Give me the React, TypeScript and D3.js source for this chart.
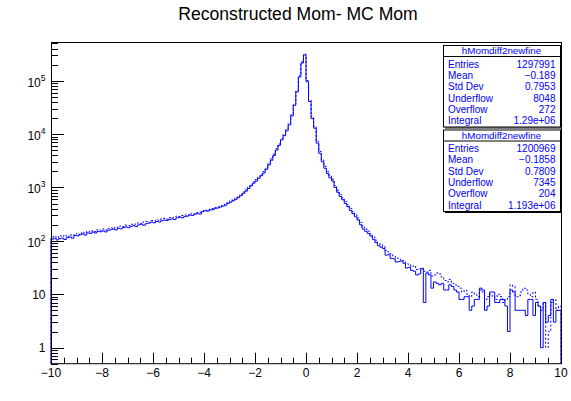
import React from "react";
import * as d3 from "d3";

// ---------------- data ----------------
const xDomain = [-10, 10];
const nBins = 200;

// hMomdiff2newfine (solid)
const solidCounts = [
  107, 112, 104, 110, 112, 106, 115, 118, 112, 126,
  124, 130, 135, 128, 141, 138, 146, 140, 150, 148,
  153, 147, 158, 161, 166, 160, 171, 168, 177, 182,
  176, 188, 192, 185, 199, 205, 196, 210, 215, 224,
  218, 230, 226, 238, 245, 240, 252, 258, 250, 269,
  276, 270, 284, 290, 305, 298, 315, 322, 318, 352,
  367, 360, 378, 385, 407, 412, 430, 448, 465, 505,
  530, 565, 600, 645, 700, 776, 851, 955, 1072, 1202,
  1318, 1479, 1660, 1862, 2188, 2630, 3236, 3981, 5012, 6166,
  7762, 9333, 11482, 14791, 21878, 34674, 61660, 117490, 213800, 302000,
  95500, 40700, 19500, 12900, 6760, 4370, 3020, 2290, 1820, 1510,
  1320, 1000, 813, 676, 589, 501, 437, 372, 324, 282,
  245, 200, 166, 151, 138, 123, 107, 93, 81, 76,
  72, 54, 55, 47, 46, 40, 41, 42, 38, 31,
  32, 28, 27, 23, 24, 30, 7, 25, 23, 13,
  17, 16, 15, 16, 12, 12, 15, 14, 12, 11,
  8, 8, 9, 9, 5, 6, 8, 8, 13, 12,
  5, 6, 11, 11, 7, 7, 8, 8, 6, 2,
  12, 11, 5, 5, 5, 5, 4, 8, 8, 4,
  7, 6, 1, 7, 3, 4, 8, 3, 5, 5,
];

// second histogram (dotted)
const dottedCounts = [
  118, 122, 115, 125, 120, 128, 119, 130, 126, 133,
  138, 131, 145, 140, 152, 147, 155, 149, 162, 158,
  166, 160, 172, 176, 170, 182, 178, 190, 186, 197,
  193, 205, 200, 212, 218, 210, 225, 230, 222, 240,
  236, 248, 244, 258, 264, 255, 272, 268, 280, 290,
  285, 298, 305, 296, 318, 326, 320, 338, 345, 362,
  375, 370, 392, 400, 418, 430, 448, 468, 488, 530,
  560, 598, 632, 680, 745, 820, 900, 1010, 1130, 1270,
  1400, 1560, 1760, 1980, 2320, 2790, 3430, 4220, 5300, 6530,
  8200, 9900, 12100, 15600, 23000, 36500, 64500, 123000, 224000, 315000,
  101000, 43500, 21000, 13900, 7300, 4750, 3260, 2480, 1970, 1640,
  1430, 1090, 885, 735, 640, 545, 475, 405, 352, 308,
  268, 220, 182, 166, 152, 135, 118, 103, 90, 84,
  78, 66, 62, 57, 52, 48, 46, 44, 42, 38,
  36, 33, 34, 29, 30, 31, 27, 26, 28, 22,
  23, 25, 24, 21, 18, 17, 19, 16, 15, 14,
  13, 11, 12, 10, 9, 11, 10, 9, 12, 11,
  8, 9, 10, 9, 8, 10, 9, 7, 8, 9,
  15, 14, 9, 9, 11, 13, 12, 10, 9, 11,
  8, 6, 5, 7, 1, 2, 7, 8, 5, 6,
];

const xTickLabels = [-10, -8, -6, -4, -2, 0, 2, 4, 6, 8, 10];
const yDecadeExponents = [0, 1, 2, 3, 4, 5];

const title = "Reconstructed Mom- MC Mom";
const statTitle = "hMomdiff2newfine";
const statLabels = ["Entries", "Mean", "Std Dev", "Underflow", "Overflow", "Integral"];
const stats1Values = ["1297991", "\u22120.189", "0.7953", "8048", "272", "1.29e+06"];
const stats2Values = ["1200969", "\u22120.1858", "0.7809", "7345", "204", "1.193e+06"];

// ---------------- layout ----------------
const W = 571;
const H = 401;
const L = 51;
const R = 561;
const T = 42;
const B = 363.7;
const FONT = "'Liberation Sans', Arial, Helvetica, sans-serif";
const BLUE = "#0000ff";

function fmtMinus(v: number) {
  return v < 0 ? "\u2212" + Math.abs(v) : String(v);
}

export default function App() {
  const x = d3.scaleLinear().domain(xDomain).range([L, R]);
  const y = d3.scaleLog().domain([0.5, 5.3e5]).range([B, T]);
  const binW = (xDomain[1] - xDomain[0]) / nBins;

  const makePath = (counts: number[]) => {
    const pts: [number, number][] = [];
    pts.push([xDomain[0], 0.5]);
    counts.forEach((c, i) => pts.push([xDomain[0] + i * binW, c]));
    pts.push([xDomain[1], counts[counts.length - 1]]);
    pts.push([xDomain[1], 0.5]);
    const line = d3
      .line<[number, number]>()
      .x((d) => x(d[0]))
      .y((d) => y(d[1]))
      .curve(d3.curveStepAfter);
    return line(pts) || "";
  };

  const xTicks = d3.range(-10, 10.0001, 0.5);
  const yMinor: number[] = [];
  for (let e = -1; e <= 5; e++) {
    for (let k = 2; k <= 9; k++) {
      const v = k * Math.pow(10, e);
      if (v >= 0.5 && v <= 5.3e5) yMinor.push(v);
    }
  }

  const boxes = [stats1Values, stats2Values];
  const boxX1 = 443;
  const boxX2 = 560;
  const boxH = 81.5;

  return (
    <svg
      width={W}
      height={H}
      style={{ position: "absolute", left: 0, top: 0, background: "#fff" }}
      fontFamily={FONT}
    >
      <rect x={0} y={0} width={W} height={H} fill="#fff" />
      <text x={298} y={20} fontSize={17.6} textAnchor="middle" fill="#000">
        {title}
      </text>

      {/* histograms */}
      <path d={makePath(dottedCounts)} fill="none" stroke={BLUE} strokeWidth={1} strokeDasharray="2,2" />
      <path d={makePath(solidCounts)} fill="none" stroke={BLUE} strokeWidth={1} />

      {/* frame */}
      <rect x={L + 0.5} y={T + 0.5} width={R - L} height={B - T - 0.5} fill="none" stroke="#000" strokeWidth={1} />

      {/* x axis ticks */}
      {xTicks.map((v, i) => {
        const major = Math.abs(v % 2) < 1e-9;
        const len = major ? 11 : 6;
        const px = Math.round(x(v)) + 0.5;
        return <line key={"xt" + i} x1={px} x2={px} y1={B} y2={B - len} stroke="#000" strokeWidth={1} />;
      })}
      {xTickLabels.map((v) => (
        <text key={"xl" + v} x={x(v)} y={377} fontSize={12} textAnchor="middle" fill="#000">
          {fmtMinus(v)}
        </text>
      ))}

      {/* y axis ticks */}
      {yDecadeExponents.map((e) => {
        const py = Math.round(y(Math.pow(10, e))) + 0.5;
        return <line key={"yM" + e} x1={L} x2={L + 13} y1={py} y2={py} stroke="#000" strokeWidth={1} />;
      })}
      {yMinor.map((v, i) => {
        const py = Math.round(y(v)) + 0.5;
        return <line key={"ym" + i} x1={L} x2={L + 7} y1={py} y2={py} stroke="#000" strokeWidth={1} />;
      })}
      {yDecadeExponents.map((e) => {
        const py = y(Math.pow(10, e));
        if (e === 0)
          return (
            <text key={"yl" + e} x={45.5} y={py + 4.3} fontSize={12} textAnchor="end" fill="#000">
              1
            </text>
          );
        if (e === 1)
          return (
            <text key={"yl" + e} x={45.5} y={py + 4.3} fontSize={12} textAnchor="end" fill="#000">
              10
            </text>
          );
        return (
          <text key={"yl" + e} x={45.5} y={py + 6} fontSize={12} textAnchor="end" fill="#000">
            10
            <tspan fontSize={8.5} dy={-6}>
              {String(e)}
            </tspan>
          </text>
        );
      })}

      {/* stats boxes */}
      {boxes.map((vals, j) => {
        const top = 45 + j * 84.5;
        const bot = top + boxH;
        return (
          <g key={"box" + j}>
            <rect x={boxX1 + 0.5} y={top + 0.5} width={boxX2 - boxX1} height={boxH} fill="#fff" stroke="#000" strokeWidth={1} />
            <line x1={boxX2 + 1.5} x2={boxX2 + 1.5} y1={top + 2} y2={bot + 2} stroke="#000" strokeWidth={1} />
            <line x1={boxX1 + 2} x2={boxX2 + 2} y1={bot + 1.5} y2={bot + 1.5} stroke="#000" strokeWidth={1} />
            <text x={(boxX1 + boxX2) / 2} y={top + 9.3} fontSize={9.8} textAnchor="middle" fill={BLUE}>
              {statTitle}
            </text>
            <line x1={boxX1} x2={boxX2} y1={top + 11.5} y2={top + 11.5} stroke="#000" strokeWidth={1} />
            {statLabels.map((lab, r) => {
              const cy = top + 19 + r * 11.3;
              return (
                <g key={"r" + r}>
                  <text x={448} y={cy + 3.6} fontSize={10} fill={BLUE}>
                    {lab}
                  </text>
                  <text x={555.5} y={cy + 3.6} fontSize={10} textAnchor="end" fill={BLUE}>
                    {vals[r]}
                  </text>
                </g>
              );
            })}
          </g>
        );
      })}
    </svg>
  );
}
